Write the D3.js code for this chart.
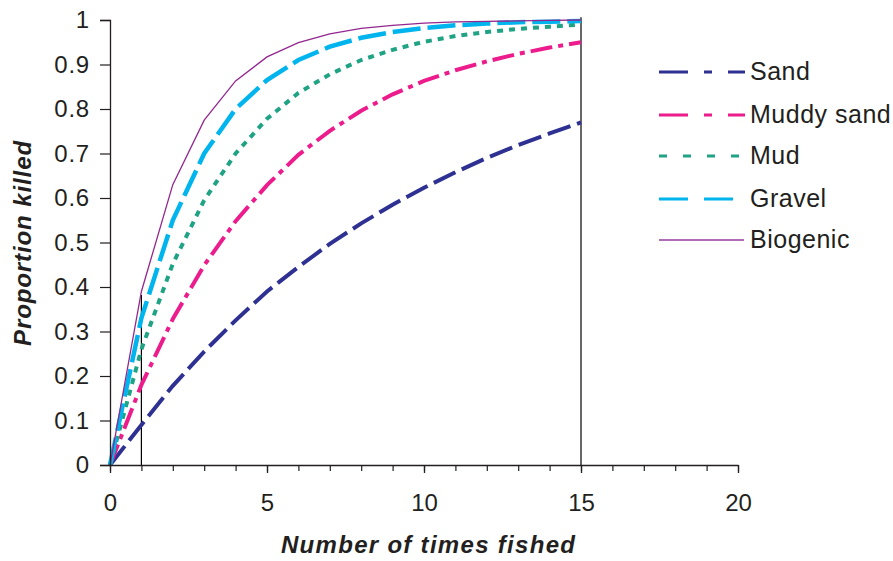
<!DOCTYPE html>
<html><head><meta charset="utf-8">
<script src="https://cdn.jsdelivr.net/npm/d3@7"></script>
<style>body{margin:0;background:#fff}svg{display:block}text{font-family:"Liberation Sans",Arial,sans-serif;fill:#231f20}</style>
</head><body><div id="chart"></div>
<script>
const timesFished = [0,1,2,3,4,5,6,7,8,9,10,11,12,13,14,15];
const sand      = [0,0.09,0.178,0.255,0.325,0.39,0.445,0.497,0.543,0.585,0.623,0.658,0.69,0.719,0.745,0.77];
const muddySand = [0,0.18,0.328,0.449,0.548,0.629,0.697,0.751,0.796,0.833,0.863,0.887,0.907,0.924,0.938,0.95];
const mud       = [0,0.26,0.452,0.595,0.70,0.778,0.836,0.878,0.91,0.933,0.951,0.964,0.973,0.98,0.985,0.99];
const gravel    = [0,0.33,0.55,0.70,0.80,0.865,0.91,0.94,0.96,0.973,0.982,0.988,0.992,0.995,0.996,0.998];
const biogenic  = [0,0.39,0.63,0.775,0.863,0.917,0.949,0.969,0.981,0.988,0.993,0.996,0.997,0.998,0.999,1.0];
const seriesNames = ["Sand","Muddy sand","Mud","Gravel","Biogenic"];
const xTicks = [0,5,10,15,20];
const yTicks = [0,0.1,0.2,0.3,0.4,0.5,0.6,0.7,0.8,0.9,1];
const markerX = [1,15];
const markerTop = [0.382,1.006];

const W=893,H=561;
const svg=d3.select("#chart").append("svg").attr("width",W).attr("height",H);
const x=d3.scaleLinear().domain([0,20]).range([110,738]);
const y=d3.scaleLinear().domain([0,1]).range([465,20]);

const styles=[
 {c:"#2e3192",w:4,dash:"24,7",ldash:"29,16,8,16"},
 {c:"#ec1c8c",w:4,dash:"22,6,5,6",ldash:"29,16,8,16"},
 {c:"#1fa384",w:4,dash:"6,6",ldash:"8,16"},
 {c:"#00b4ee",w:4.5,dash:"28,7",ldash:"29,16"},
 {c:"#93278f",w:1.3,dash:null,ldash:null}
];
const data=[sand,muddySand,mud,gravel,biogenic];

markerX.forEach((mx,i)=>{
  svg.append("line").attr("x1",x(mx)).attr("x2",x(mx)).attr("y1",y(0)).attr("y2",y(markerTop[i]))
   .attr("stroke","#000").attr("stroke-width",1.2);
});

const line=d3.line().x((d,i)=>x(timesFished[i])).y(d=>y(d));
data.forEach((s,i)=>{
  const st=styles[i];
  svg.append("path").datum(s).attr("d",line).attr("fill","none")
   .attr("stroke",st.c).attr("stroke-width",st.w)
   .attr("stroke-dasharray",st.dash).attr("stroke-linejoin","miter");
});

const yAxis=d3.axisLeft(y).tickValues(yTicks).tickFormat(d=>d===0||d===1?String(d):d3.format(".1f")(d)).tickSize(10).tickPadding(10);
const gy=svg.append("g").attr("transform",`translate(${x(0)},0)`).call(yAxis);
gy.select(".domain").attr("stroke","#231f20").attr("stroke-width",1.3);
gy.selectAll(".tick line").attr("stroke","#231f20").attr("stroke-width",1.2);
gy.selectAll(".tick text").style("font-size","24px").style("letter-spacing","0.8px").attr("fill","#231f20");

const xMinor=d3.range(0,21,1);
const gxm=svg.append("g").attr("transform",`translate(0,${y(0)})`)
  .call(d3.axisBottom(x).tickValues(xMinor).tickSize(6).tickFormat(""));
gxm.select(".domain").remove();
gxm.selectAll(".tick line").attr("stroke","#231f20").attr("stroke-width",1.2);
const gx=svg.append("g").attr("transform",`translate(0,${y(0)})`)
  .call(d3.axisBottom(x).tickValues(xTicks).tickSize(8).tickPadding(21).tickSizeOuter(0));
gx.select(".domain").attr("stroke","#231f20").attr("stroke-width",1.3);
gx.selectAll(".tick line").attr("stroke","#231f20").attr("stroke-width",1.3);
gx.selectAll(".tick text").style("font-size","24px").attr("fill","#231f20");

svg.append("text").attr("x",428.6).attr("y",553).attr("text-anchor","middle")
 .style("font-size","24px").style("letter-spacing","1.3px").style("font-weight","bold").style("font-style","italic").text("Number of times fished");
svg.append("text").attr("transform","translate(31,243) rotate(-90)").attr("text-anchor","middle")
 .style("font-size","24px").style("letter-spacing","0.9px").style("font-weight","bold").style("font-style","italic").text("Proportion killed");

const legY=[72,115,156,199,240];
seriesNames.forEach((n,i)=>{
  const st=styles[i];
  svg.append("line").attr("x1",659).attr("x2",i===4?744:745).attr("y1",legY[i]).attr("y2",legY[i])
   .attr("stroke",i===4?"#b06cb4":st.c).attr("stroke-width",i===4?2:3)
   .attr("stroke-dasharray",st.ldash);
  svg.append("text").attr("x",750).attr("y",legY[i]+8).style("font-size","25px").style("letter-spacing","0.5px").text(n);
});
</script></body></html>
